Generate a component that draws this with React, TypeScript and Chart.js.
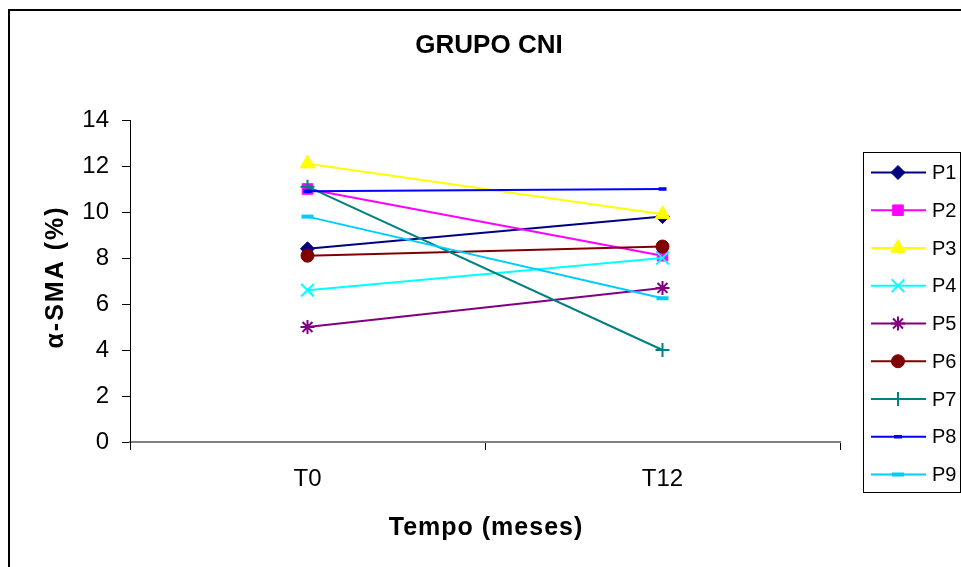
import React, { useEffect, useRef } from 'react';
import { Chart, registerables } from 'chart.js';

Chart.register(...registerables);

// ---- data ----
const categories = ['T0', 'T12'];
const seriesNames = ['P1', 'P2', 'P3', 'P4', 'P5', 'P6', 'P7', 'P8', 'P9'];
const p1 = [8.4, 9.8];
const p2 = [11.0, 8.1];
const p3 = [12.1, 9.9];
const p4 = [6.6, 8.0];
const p5 = [5.0, 6.7];
const p6 = [8.1, 8.5];
const p7 = [11.1, 4.0];
const p8 = [10.9, 11.0];
const p9 = [9.8, 6.25];
const seriesValues = [p1, p2, p3, p4, p5, p6, p7, p8, p9];
const yMin = 0;
const yMax = 14;
const yStep = 2;
const chartTitle = 'GRUPO CNI';
const xTitle = 'Tempo (meses)';
const yTitle = 'α-SMA (%)';

// ---- styles ----
const colors = ['#000080', '#FF00FF', '#FFFF00', '#00FFFF', '#800080', '#800000', '#008080', '#0000FF', '#00CCFF'];
const pointStyles = ['rectRot', 'rect', 'triangle', 'crossRot', 'star', 'circle', 'cross', 'line', 'line'];
const pointRadii = [7, 7.5, 8.5, 9, 7, 6.5, 7, 4, 6];
const pointBorderWidths = [1, 1, 1, 2, 2, 1, 2, 3.5, 4];
const FONT = "'Liberation Sans', Arial, sans-serif";

function drawMarker(ctx: CanvasRenderingContext2D, style: string, x: number, y: number, r: number, color: string, bw: number) {
  ctx.save();
  ctx.fillStyle = color;
  ctx.strokeStyle = color;
  ctx.lineWidth = bw;
  ctx.beginPath();
  let fill = true;
  switch (style) {
    case 'circle':
      ctx.arc(x, y, r, 0, Math.PI * 2);
      break;
    case 'rect': {
      const s = r * Math.SQRT1_2;
      ctx.rect(x - s, y - s, 2 * s, 2 * s);
      break;
    }
    case 'rectRot':
      ctx.moveTo(x, y - r);
      ctx.lineTo(x + r, y);
      ctx.lineTo(x, y + r);
      ctx.lineTo(x - r, y);
      ctx.closePath();
      break;
    case 'triangle': {
      let a = 0;
      ctx.moveTo(x + Math.sin(a) * r, y - Math.cos(a) * r);
      a += (2 * Math.PI) / 3;
      ctx.lineTo(x + Math.sin(a) * r, y - Math.cos(a) * r);
      a += (2 * Math.PI) / 3;
      ctx.lineTo(x + Math.sin(a) * r, y - Math.cos(a) * r);
      ctx.closePath();
      break;
    }
    case 'cross':
      fill = false;
      ctx.moveTo(x, y - r); ctx.lineTo(x, y + r);
      ctx.moveTo(x - r, y); ctx.lineTo(x + r, y);
      break;
    case 'crossRot': {
      fill = false;
      const o = r * Math.SQRT1_2;
      ctx.moveTo(x - o, y - o); ctx.lineTo(x + o, y + o);
      ctx.moveTo(x - o, y + o); ctx.lineTo(x + o, y - o);
      break;
    }
    case 'star': {
      fill = false;
      const o = r * Math.SQRT1_2;
      ctx.moveTo(x, y - r); ctx.lineTo(x, y + r);
      ctx.moveTo(x - r, y); ctx.lineTo(x + r, y);
      ctx.moveTo(x - o, y - o); ctx.lineTo(x + o, y + o);
      ctx.moveTo(x - o, y + o); ctx.lineTo(x + o, y - o);
      break;
    }
    case 'line':
      fill = false;
      ctx.moveTo(x - r, y); ctx.lineTo(x + r, y);
      break;
  }
  if (fill) ctx.fill();
  ctx.stroke();
  ctx.restore();
}

const framePlugin = {
  id: 'frame',
  beforeDraw(chart: any) {
    const { ctx, width, height } = chart;
    ctx.save();
    ctx.fillStyle = '#ffffff';
    ctx.fillRect(0, 0, width, height);
    ctx.strokeStyle = '#000000';
    ctx.lineWidth = 2;
    ctx.strokeRect(9, 10, width + 40, height + 40);
    ctx.restore();
  },
  afterDraw(chart: any) {
    const { ctx, chartArea } = chart;
    ctx.save();
    // titles
    ctx.fillStyle = '#000000';
    ctx.textAlign = 'center';
    ctx.textBaseline = 'alphabetic';
    ctx.font = `bold 26px ${FONT}`;
    ctx.fillText(chartTitle, 489, 53);
    (ctx as any).letterSpacing = '1px';
    ctx.font = `bold 25px ${FONT}`;
    ctx.fillText(xTitle, (chartArea.left + chartArea.right) / 2 + 1, 535);
    ctx.save();
    (ctx as any).letterSpacing = '2px';
    ctx.translate(63, 277);
    ctx.rotate(-Math.PI / 2);
    ctx.fillText(yTitle, 0, 0);
    ctx.restore();
    (ctx as any).letterSpacing = '0px';

    // legend
    const boxLeft = 863.5;
    const boxTop = 152.5;
    const boxRight = 960.5;
    const boxBottom = 492.5;
    ctx.fillStyle = '#ffffff';
    ctx.fillRect(boxLeft, boxTop, boxRight - boxLeft, boxBottom - boxTop);
    ctx.strokeStyle = '#000000';
    ctx.lineWidth = 1;
    ctx.strokeRect(boxLeft, boxTop, boxRight - boxLeft, boxBottom - boxTop);
    const rowH = 37.75;
    chart.data.datasets.forEach((ds: any, i: number) => {
      const y = 172.5 + rowH * i;
      ctx.strokeStyle = ds.borderColor;
      ctx.lineWidth = 2;
      ctx.beginPath();
      ctx.moveTo(871, y);
      ctx.lineTo(926, y);
      ctx.stroke();
      drawMarker(ctx, ds.pointStyle, 898, y, ds.pointRadius, ds.borderColor, ds.pointBorderWidth);
      ctx.fillStyle = '#000000';
      ctx.font = `20px ${FONT}`;
      ctx.textAlign = 'left';
      ctx.textBaseline = 'middle';
      ctx.fillText(ds.label, 932, y + 1);
    });
    ctx.restore();
  },
};

export default function App() {
  const canvasRef = useRef<HTMLCanvasElement | null>(null);

  useEffect(() => {
    if (!canvasRef.current) return;
    const datasets = seriesNames.map((name, i) => ({
      label: name,
      data: seriesValues[i],
      borderColor: colors[i],
      backgroundColor: colors[i],
      pointBackgroundColor: colors[i],
      pointBorderColor: colors[i],
      pointStyle: pointStyles[i],
      pointRadius: pointRadii[i],
      pointBorderWidth: pointBorderWidths[i],
      borderWidth: 2,
      tension: 0,
      fill: false,
      order: seriesNames.length - 1 - i,
    }));
    const chart = new Chart(canvasRef.current, {
      type: 'line',
      data: { labels: categories, datasets },
      options: {
        responsive: false,
        animation: false,
        devicePixelRatio: 1,
        layout: { padding: { left: 0, top: 120, right: 121, bottom: 0 } },
        font: { family: FONT },
        plugins: {
          legend: { display: false },
          tooltip: { enabled: false },
          title: { display: false },
        },
        scales: {
          x: {
            type: 'category',
            offset: true,
            grid: { offset: true, drawOnChartArea: false, drawTicks: true, tickLength: 8, color: '#000000', lineWidth: 1 },
            border: { display: true, color: '#808080', width: 2 },
            ticks: { color: '#000000', font: { family: FONT, size: 24 }, padding: 15, maxRotation: 0 },
            title: { display: false },
            afterFit: (s: any) => { s.height = 125; },
          },
          y: {
            min: yMin,
            max: yMax,
            ticks: { stepSize: yStep, color: '#000000', font: { family: FONT, size: 24 }, padding: 13 },
            grid: { drawOnChartArea: false, drawTicks: true, tickLength: 8, color: '#000000' },
            border: { display: true, color: '#000000', width: 1 },
            title: { display: false },
            afterFit: (s: any) => { s.width = 130; },
          },
        },
      } as any,
      plugins: [framePlugin],
    });
    return () => chart.destroy();
  }, []);

  return (
    <div style={{ position: 'absolute', left: 0, top: 0, width: 961, height: 567, overflow: 'hidden', background: '#fff' }}>
      <canvas ref={canvasRef} width={961} height={567} style={{ display: 'block' }} />
    </div>
  );
}
